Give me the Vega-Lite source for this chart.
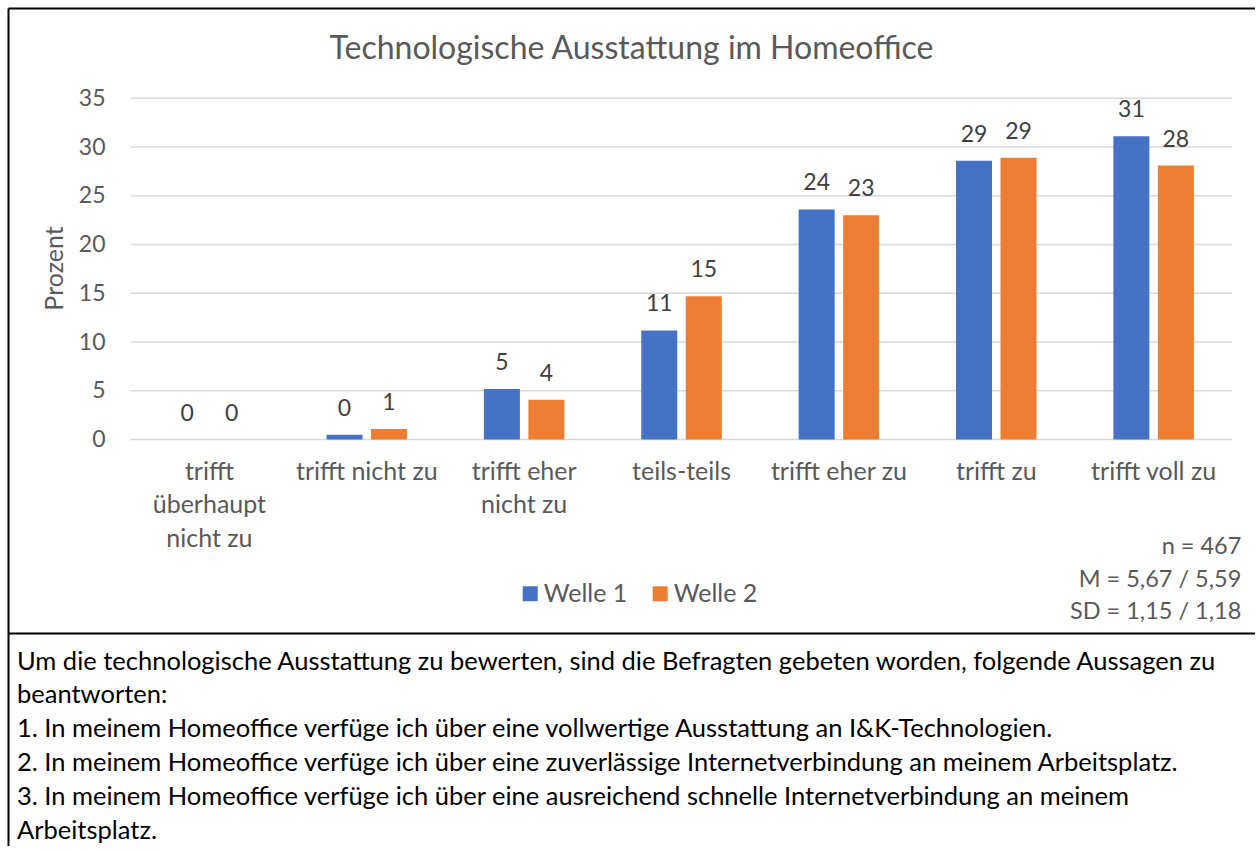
{
  "$schema": "https://vega.github.io/schema/vega-lite/v6.json",
  "padding": {"left": 8, "top": 8, "right": 0, "bottom": 0},
  "background": "white",
  "spacing": 0,
  "config": {
    "font": "Lato",
    "view": {"stroke": null},
    "axis": {"labelFont": "Lato", "titleFont": "Lato"},
    "legend": {"labelFont": "Lato"},
    "title": {"font": "Lato"}
  },
  "datasets": {
    "werte": [
      {"kategorie": "trifft überhaupt nicht zu", "welle": "Welle 1", "prozent": 0},
      {"kategorie": "trifft überhaupt nicht zu", "welle": "Welle 2", "prozent": 0},
      {"kategorie": "trifft nicht zu", "welle": "Welle 1", "prozent": 0.49},
      {"kategorie": "trifft nicht zu", "welle": "Welle 2", "prozent": 1.1},
      {"kategorie": "trifft eher nicht zu", "welle": "Welle 1", "prozent": 5.2},
      {"kategorie": "trifft eher nicht zu", "welle": "Welle 2", "prozent": 4.1},
      {"kategorie": "teils-teils", "welle": "Welle 1", "prozent": 11.2},
      {"kategorie": "teils-teils", "welle": "Welle 2", "prozent": 14.7},
      {"kategorie": "trifft eher zu", "welle": "Welle 1", "prozent": 23.6},
      {"kategorie": "trifft eher zu", "welle": "Welle 2", "prozent": 23.0},
      {"kategorie": "trifft zu", "welle": "Welle 1", "prozent": 28.6},
      {"kategorie": "trifft zu", "welle": "Welle 2", "prozent": 28.9},
      {"kategorie": "trifft voll zu", "welle": "Welle 1", "prozent": 31.1},
      {"kategorie": "trifft voll zu", "welle": "Welle 2", "prozent": 28.1}
    ],
    "raster": [
      {"wert": 0}, {"wert": 5}, {"wert": 10}, {"wert": 15},
      {"wert": 20}, {"wert": 25}, {"wert": 30}, {"wert": 35}
    ],
    "notiz": [
      {"text": "n = 467\nM = 5,67 / 5,59\nSD = 1,15 / 1,18"}
    ],
    "erlaeuterung": [
      {"zeile": 1, "text": "Um die technologische Ausstattung zu bewerten, sind die Befragten gebeten worden, folgende Aussagen zu"},
      {"zeile": 2, "text": "beantworten:"},
      {"zeile": 3, "text": "1. In meinem Homeoffice verfüge ich über eine vollwertige Ausstattung an I&K-Technologien."},
      {"zeile": 4, "text": "2. In meinem Homeoffice verfüge ich über eine zuverlässige Internetverbindung an meinem Arbeitsplatz."},
      {"zeile": 5, "text": "3. In meinem Homeoffice verfüge ich über eine ausreichend schnelle Internetverbindung an meinem"},
      {"zeile": 6, "text": "Arbeitsplatz."}
    ]
  },
  "vconcat": [
    {
      "width": 1247,
      "height": 625,
      "title": {
        "text": "Technologische Ausstattung im Homeoffice",
        "fontSize": 32,
        "fontWeight": "normal",
        "color": "#595959",
        "anchor": "middle",
        "frame": "group",
        "baseline": "alphabetic",
        "offset": -83
      },
      "resolve": {"axis": {"x": "independent"}},
      "layer": [
        {
          "data": {"name": "raster"},
          "mark": {"type": "rule", "color": "#D9D9D9", "strokeWidth": 1.5},
          "encoding": {
            "y": {
              "field": "wert",
              "type": "quantitative",
              "title": "Prozent",
              "scale": {"domain": [-19.83, 44.26], "nice": false},
              "axis": {
                "values": [0, 5, 10, 15, 20, 25, 30, 35],
                "orient": "left",
                "offset": 0,
                "domain": true,
                "domainColor": "#000000",
                "domainWidth": 2,
                "ticks": false,
                "grid": false,
                "labelPadding": -97,
                "labelAlign": "right",
                "labelBaseline": "middle",
                "labelFontSize": 23,
                "labelColor": "#595959",
                "title": "Prozent",
                "titleFontSize": 25,
                "titleFontWeight": "normal",
                "titleColor": "#595959",
                "titleAngle": -90,
                "titleAlign": "center",
                "titleBaseline": "bottom",
                "titleX": 59,
                "titleY": 260
              }
            },
            "x": {
              "datum": "trifft überhaupt nicht zu",
              "type": "nominal",
              "bandPosition": 0,
              "axis": {
                "orient": "top",
                "domain": true,
                "domainColor": "#000000",
                "domainWidth": 2,
                "labels": false,
                "ticks": false,
                "grid": false,
                "title": null
              }
            },
            "x2": {"datum": "trifft voll zu", "bandPosition": 1}
          }
        },
        {
          "data": {"name": "werte"},
          "mark": {"type": "bar"},
          "encoding": {
            "x": {
              "field": "kategorie",
              "type": "nominal",
              "sort": ["trifft überhaupt nicht zu", "trifft nicht zu", "trifft eher nicht zu", "teils-teils", "trifft eher zu", "trifft zu", "trifft voll zu"],
              "scale": {
                "domain": ["trifft überhaupt nicht zu", "trifft nicht zu", "trifft eher nicht zu", "teils-teils", "trifft eher zu", "trifft zu", "trifft voll zu"],
                "paddingInner": 0,
                "paddingOuter": 0.462,
                "align": 0.844
              },
              "axis": {
                "orient": "bottom",
                "offset": 0,
                "domain": true,
                "domainColor": "#000000",
                "domainWidth": 2,
                "ticks": false,
                "grid": false,
                "labelAngle": 0,
                "labelAlign": "center",
                "labelBaseline": "top",
                "labelPadding": -174,
                "labelFontSize": 25,
                "labelColor": "#595959",
                "labelLineHeight": 33.5,
                "labelLimit": 400,
                "labelOverlap": false,
                "labelExpr": "datum.value == 'trifft überhaupt nicht zu' ? ['trifft', 'überhaupt', 'nicht zu'] : datum.value == 'trifft eher nicht zu' ? ['trifft eher', 'nicht zu'] : datum.value",
                "title": null
              }
            },
            "xOffset": {
              "field": "welle",
              "type": "nominal",
              "scale": {"paddingInner": 0.191, "paddingOuter": 0.864}
            },
            "y": {"field": "prozent", "type": "quantitative", "title": "Prozent"},
            "y2": {"datum": 0},
            "color": {
              "field": "welle",
              "type": "nominal",
              "scale": {"domain": ["Welle 1", "Welle 2"], "range": ["#4472C4", "#ED7D31"]},
              "legend": {
                "orient": "none",
                "legendX": 509.7,
                "legendY": 573,
                "direction": "horizontal",
                "title": null,
                "padding": 0,
                "symbolType": "square",
                "symbolSize": 225,
                "symbolStrokeWidth": 0,
                "symbolOpacity": 1,
                "labelFontSize": 25,
                "labelColor": "#595959",
                "labelOffset": 1,
                "columnPadding": 20
              }
            }
          }
        },
        {
          "data": {"name": "werte"},
          "mark": {"type": "text", "baseline": "alphabetic", "dy": -19, "fontSize": 23, "color": "#404040"},
          "encoding": {
            "x": {"field": "kategorie", "type": "nominal", "axis": null},
            "xOffset": {"field": "welle", "type": "nominal"},
            "y": {"field": "prozent", "type": "quantitative", "title": "Prozent"},
            "text": {"field": "prozent", "type": "quantitative", "format": ".0f"}
          }
        },
        {
          "data": {"name": "notiz"},
          "mark": {
            "type": "text",
            "align": "right",
            "baseline": "alphabetic",
            "lineBreak": "\n",
            "lineHeight": 32.5,
            "fontSize": 23.5,
            "color": "#595959",
            "dx": 9,
            "dy": 114.4
          },
          "encoding": {
            "x": {"datum": "trifft voll zu", "type": "nominal", "bandPosition": 1, "axis": null},
            "y": {"datum": 0, "type": "quantitative"},
            "text": {"field": "text"}
          }
        }
      ]
    },
    {
      "width": 1247,
      "height": 213,
      "data": {"name": "erlaeuterung"},
      "mark": {"type": "text", "align": "left", "baseline": "alphabetic", "fontSize": 25.5, "color": "#000000", "dx": 9},
      "encoding": {
        "y": {
          "field": "zeile",
          "type": "ordinal",
          "scale": {"type": "point", "padding": 0.651, "align": 0.83},
          "axis": {
            "orient": "left",
            "domain": true,
            "domainColor": "#000000",
            "domainWidth": 2,
            "labels": false,
            "ticks": false,
            "grid": false,
            "title": null
          }
        },
        "x": {"datum": 0, "type": "quantitative", "scale": {"domain": [0, 1]}, "axis": null},
        "text": {"field": "text"}
      }
    }
  ]
}
